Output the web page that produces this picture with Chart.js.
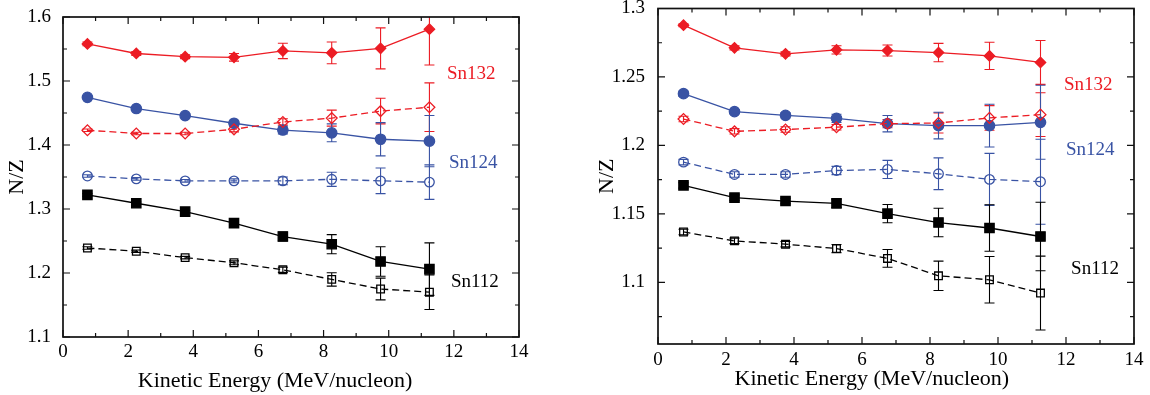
<!DOCTYPE html>
<html>
<head>
<meta charset="utf-8">
<script src="https://cdn.jsdelivr.net/npm/chart.js@4.4.1/dist/chart.umd.min.js"></script>
<style>
  body { margin: 0; background: #fff; }
  #wrap { position: relative; width: 1150px; height: 395px; }
  #left { position: absolute; left: 0; top: 0; width: 575px; height: 395px; }
  #right { position: absolute; left: 575px; top: 0; width: 575px; height: 395px; }
</style>
</head>
<body>
<div id="wrap">
  <canvas id="left" width="575" height="395"></canvas>
  <canvas id="right" width="575" height="395"></canvas>
</div>
<script>
// kinetic energy bins (MeV/nucleon)
var energies = [0.75, 2.25, 3.75, 5.25, 6.75, 8.25, 9.75, 11.25];

// left panel
var sn132FilledL = [1.558, 1.543, 1.538, 1.537, 1.547, 1.544, 1.551, 1.581];
var sn132FilledErrL = [0.003, 0.003, 0.003, 0.006, 0.012, 0.017, 0.032, 0.056];
var sn132OpenL = [1.423, 1.418, 1.418, 1.4245, 1.436, 1.442, 1.453, 1.459];
var sn132OpenErrL = [0.002, 0.002, 0.002, 0.004, 0.005, 0.0125, 0.02, 0.038];
var sn124FilledL = [1.4745, 1.457, 1.446, 1.434, 1.4234, 1.419, 1.409, 1.406];
var sn124FilledErrL = [0.002, 0.002, 0.003, 0.004, 0.006, 0.014, 0.026, 0.04];
var sn124OpenL = [1.3516, 1.347, 1.344, 1.344, 1.344, 1.3464, 1.344, 1.342];
var sn124OpenErrL = [0.002, 0.002, 0.002, 0.003, 0.006, 0.011, 0.02, 0.027];
var sn112FilledL = [1.322, 1.309, 1.296, 1.278, 1.257, 1.245, 1.218, 1.206];
var sn112FilledErrL = [0.002, 0.002, 0.002, 0.003, 0.007, 0.015, 0.023, 0.041];
var sn112OpenL = [1.239, 1.234, 1.224, 1.216, 1.205, 1.19, 1.175, 1.17];
var sn112OpenErrL = [0.002, 0.002, 0.002, 0.003, 0.004, 0.0105, 0.017, 0.027];

// right panel
var sn132FilledR = [1.2878, 1.2713, 1.2669, 1.2698, 1.2693, 1.2678, 1.2654, 1.2606];
var sn132FilledErrR = [0.001, 0.0015, 0.0015, 0.003, 0.004, 0.0067, 0.01, 0.016];
var sn132OpenR = [1.2193, 1.2103, 1.2116, 1.2133, 1.2159, 1.2164, 1.2201, 1.2225];
var sn132OpenErrR = [0.002, 0.002, 0.002, 0.002, 0.003, 0.0073, 0.009, 0.016];
var sn124FilledR = [1.2378, 1.2247, 1.222, 1.2198, 1.2159, 1.2145, 1.2145, 1.2169];
var sn124FilledErrR = [0.002, 0.0015, 0.002, 0.003, 0.006, 0.0097, 0.0156, 0.027];
var sn124OpenR = [1.1878, 1.1788, 1.1788, 1.1817, 1.1825, 1.1793, 1.1752, 1.1735];
var sn124OpenErrR = [0.002, 0.002, 0.002, 0.003, 0.0066, 0.0116, 0.019, 0.031];
var sn112FilledR = [1.1708, 1.1619, 1.1594, 1.1577, 1.1502, 1.1437, 1.1397, 1.1335];
var sn112FilledErrR = [0.002, 0.002, 0.002, 0.003, 0.0067, 0.0104, 0.017, 0.025];
var sn112OpenR = [1.1368, 1.1303, 1.1279, 1.1247, 1.1175, 1.1048, 1.1019, 1.0922];
var sn112OpenErrR = [0.002, 0.002, 0.002, 0.003, 0.0065, 0.0107, 0.017, 0.027];

var RED = '#ec1c24';
var BLUE = '#3953a4';
var BLACK = '#000000';
var FONT = '"Liberation Serif", "DejaVu Serif", serif';

function series(values, errs, color, style, filled, radius) {
    return {
        data: values.map(function (v, i) { return { x: energies[i], y: v }; }),
        errors: errs,
        borderColor: color,
        borderWidth: 1.3,
        borderDash: filled ? [] : [7, 4],
        pointStyle: style,
        pointRadius: radius,
        pointBorderWidth: 1.3,
        pointBorderColor: color,
        pointBackgroundColor: filled ? color : 'rgba(0,0,0,0)',
        tension: 0,
        fill: false
    };
}

// vertical error bars with caps, clipped to the plot frame
var errorBars = {
    id: 'errorBars',
    beforeDatasetsDraw: function (chart) {
        var ctx = chart.ctx, ys = chart.scales.y, a = chart.chartArea;
        ctx.save();
        ctx.beginPath();
        ctx.rect(a.left, a.top, a.right - a.left, a.bottom - a.top);
        ctx.clip();
        chart.data.datasets.forEach(function (ds, i) {
            var meta = chart.getDatasetMeta(i);
            ctx.strokeStyle = ds.borderColor;
            ctx.lineWidth = 1.1;
            ctx.setLineDash([]);
            meta.data.forEach(function (pt, j) {
                var v = ds.data[j].y, e = ds.errors[j];
                var top = ys.getPixelForValue(v + e), bot = ys.getPixelForValue(v - e);
                ctx.beginPath();
                ctx.moveTo(pt.x, top);
                ctx.lineTo(pt.x, bot);
                ctx.moveTo(pt.x - 5, top);
                ctx.lineTo(pt.x + 5, top);
                ctx.moveTo(pt.x - 5, bot);
                ctx.lineTo(pt.x + 5, bot);
                ctx.stroke();
            });
        });
        ctx.restore();
    }
};

// box frame, inward ticks on all sides, series labels, x title
var frame = {
    id: 'frame',
    afterDraw: function (chart, args, opts) {
        var ctx = chart.ctx, a = chart.chartArea;
        var xs = chart.scales.x, ys = chart.scales.y;
        ctx.save();
        ctx.strokeStyle = '#111';
        ctx.lineWidth = 1.2;
        ctx.setLineDash([]);

        function minors(scale, step) {
            var out = [];
            var k = Math.ceil(scale.min / step - 1e-6);
            for (var v = k * step; v <= scale.max + 1e-9; v += step) {
                var isMajor = scale.ticks.some(function (t) { return Math.abs(t.value - v) < step / 10; });
                if (!isMajor) out.push(v);
            }
            return out;
        }

        function xTick(v, len) {
            var px = xs.getPixelForValue(v);
            ctx.beginPath();
            ctx.moveTo(px, a.bottom); ctx.lineTo(px, a.bottom - len);
            ctx.moveTo(px, a.top); ctx.lineTo(px, a.top + len);
            ctx.stroke();
        }
        function yTick(v, len) {
            var py = ys.getPixelForValue(v);
            ctx.beginPath();
            ctx.moveTo(a.left, py); ctx.lineTo(a.left + len, py);
            ctx.moveTo(a.right, py); ctx.lineTo(a.right - len, py);
            ctx.stroke();
        }
        xs.ticks.forEach(function (t) { xTick(t.value, 7); });
        minors(xs, opts.xMinor).forEach(function (v) { xTick(v, 4); });
        ys.ticks.forEach(function (t) { yTick(t.value, 7); });
        minors(ys, opts.yMinor).forEach(function (v) { yTick(v, 4); });

        ctx.lineWidth = 1.7;
        ctx.strokeRect(a.left, a.top, a.right - a.left, a.bottom - a.top);

        ctx.font = '19px ' + FONT;
        ctx.textAlign = 'left';
        ctx.textBaseline = 'middle';
        opts.labels.forEach(function (l) {
            ctx.fillStyle = l.color;
            ctx.fillText(l.text, xs.getPixelForValue(l.x), ys.getPixelForValue(l.y));
        });

        ctx.font = '22px ' + FONT;
        ctx.textAlign = 'center';
        ctx.fillStyle = '#000';
        ctx.fillText('Kinetic Energy (MeV/nucleon)', xs.getPixelForValue(opts.titleAt), a.bottom + opts.titleOffset);
        ctx.restore();
    }
};

function fmt(v) {
    return String(+v.toFixed(3));
}

function makePanel(id, sets, p) {
    return new Chart(document.getElementById(id), {
        type: 'line',
        data: { datasets: sets },
        plugins: [errorBars, frame],
        options: {
            responsive: false,
            maintainAspectRatio: false,
            animation: false,
            events: [],
            layout: { padding: { top: p.padTop, right: p.padRight, left: 0, bottom: 0 } },
            plugins: {
                legend: { display: false },
                tooltip: { enabled: false },
                frame: { xMinor: 1, yMinor: p.yMinor, labels: p.labels, titleAt: p.titleAt, titleOffset: p.titleOffset }
            },
            scales: {
                x: {
                    type: 'linear',
                    min: 0,
                    max: 14,
                    grid: { display: false },
                    border: { display: false },
                    ticks: { stepSize: 2, padding: p.xTickPad, color: '#000', font: { family: FONT, size: 19 }, maxRotation: 0 },
                    afterFit: function (s) { s.height = p.xHeight; s.paddingLeft = 0; s.paddingRight = 0; }
                },
                y: {
                    min: p.yMin,
                    max: p.yMax,
                    grid: { display: false },
                    border: { display: false },
                    ticks: {
                        stepSize: p.yStep,
                        includeBounds: false,
                        padding: p.yTickPad,
                        color: '#000',
                        font: { family: FONT, size: 19 },
                        callback: fmt
                    },
                    title: { display: true, text: 'N/Z', color: '#000', font: { family: FONT, size: 22 }, padding: { top: p.yTitlePad, bottom: 0 } },
                    afterFit: function (s) { s.width = p.yWidth; s.paddingTop = 0; s.paddingBottom = 0; }
                }
            }
        }
    });
}

makePanel('left', [
    series(sn132FilledL, sn132FilledErrL, RED, 'rectRot', true, 5.2),
    series(sn132OpenL, sn132OpenErrL, RED, 'rectRot', false, 5.4),
    series(sn124FilledL, sn124FilledErrL, BLUE, 'circle', true, 5.2),
    series(sn124OpenL, sn124OpenErrL, BLUE, 'circle', false, 4.8),
    series(sn112FilledL, sn112FilledErrL, BLACK, 'rect', true, 6.6),
    series(sn112OpenL, sn112OpenErrL, BLACK, 'rect', false, 5.4)
], {
    yMin: 1.1, yMax: 1.6, yStep: 0.1, yMinor: 0.05,
    padTop: 17, padRight: 56, yWidth: 63, xHeight: 58,
    xTickPad: -4, yTickPad: 4, yTitlePad: 4,
    titleAt: 6.51, titleOffset: 44,
    labels: [
        { text: 'Sn132', x: 11.79, y: 1.511, color: RED },
        { text: 'Sn124', x: 11.85, y: 1.372, color: BLUE },
        { text: 'Sn112', x: 11.91, y: 1.186, color: BLACK }
    ]
});

makePanel('right', [
    series(sn132FilledR, sn132FilledErrR, RED, 'rectRot', true, 5.2),
    series(sn132OpenR, sn132OpenErrR, RED, 'rectRot', false, 5.4),
    series(sn124FilledR, sn124FilledErrR, BLUE, 'circle', true, 5.2),
    series(sn124OpenR, sn124OpenErrR, BLUE, 'circle', false, 4.8),
    series(sn112FilledR, sn112FilledErrR, BLACK, 'rect', true, 6.6),
    series(sn112OpenR, sn112OpenErrR, BLACK, 'rect', false, 5.4)
], {
    yMin: 1.055, yMax: 1.3, yStep: 0.05, yMinor: 0.025,
    padTop: 8.5, padRight: 16, yWidth: 83, xHeight: 51,
    xTickPad: -3, yTickPad: 5, yTitlePad: 19,
    titleAt: 6.29, titleOffset: 35,
    labels: [
        { text: 'Sn132', x: 11.94, y: 1.2443, color: RED },
        { text: 'Sn124', x: 12.0, y: 1.1963, color: BLUE },
        { text: 'Sn112', x: 12.15, y: 1.1097, color: BLACK }
    ]
});
</script>
</body>
</html>
